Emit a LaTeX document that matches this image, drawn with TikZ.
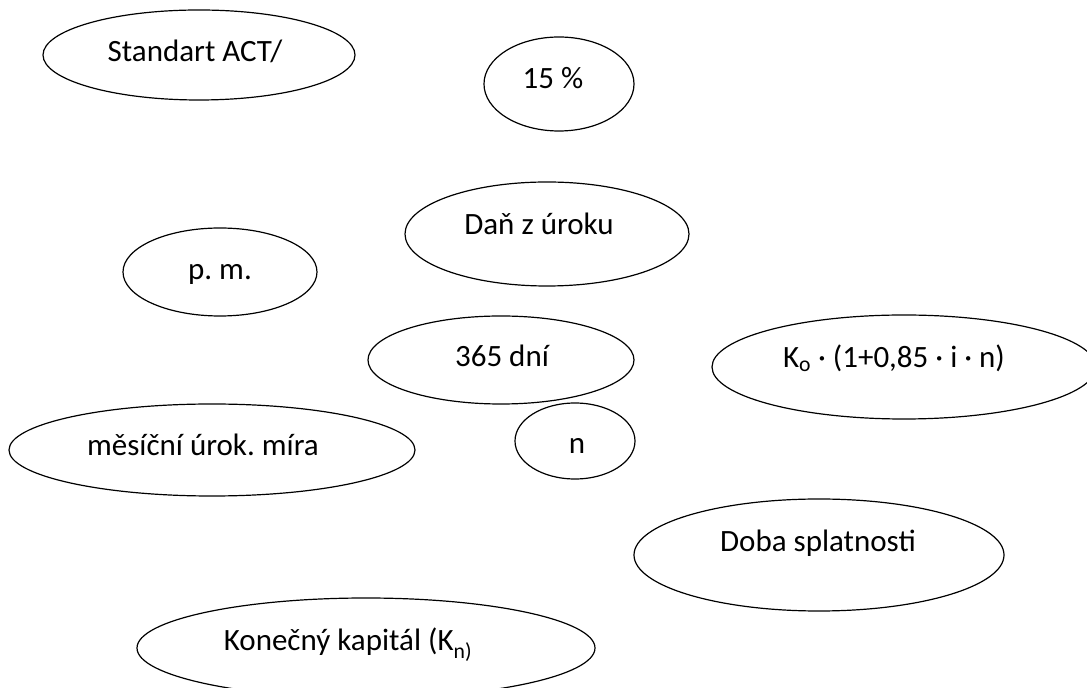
\documentclass[tikz,border=0pt]{standalone}
\usepackage{fontspec}
\setmainfont{Carlito}
\frenchspacing
\usetikzlibrary{shapes.geometric}
\tikzset{
  oval/.style={draw=black, line width=1.2pt, ellipse, inner sep=0pt, fill=none},
  lbl/.style={anchor=base, inner sep=0pt, font=\fontsize{31}{36}\selectfont}
}
\begin{document}
\begin{tikzpicture}[x=1pt,y=1pt]
\clip (0,0) rectangle (1087,688);
\fill[white] (0,0) rectangle (1087,688);
% ellipses
\node[oval, minimum width=312pt, minimum height=90pt]  (std)  at (199,633) {};
\node[oval, minimum width=150pt, minimum height=94pt]  (pct)  at (559,604) {};
\node[oval, minimum width=284pt, minimum height=104pt] (dan)  at (547,454) {};
\node[oval, minimum width=194pt, minimum height=88pt]  (pm)   at (220,416) {};
\node[oval, minimum width=266pt, minimum height=88pt]  (dni)  at (501,328) {};
\node[oval, minimum width=384pt, minimum height=104pt] (ko)   at (904,321) {};
\node[oval, minimum width=406pt, minimum height=92pt]  (mes)  at (212,238) {};
\node[oval, minimum width=120pt, minimum height=76pt]  (n)    at (575,247) {};
\node[oval, minimum width=370pt, minimum height=112pt] (doba) at (819,133) {};
\node[oval, minimum width=458pt, minimum height=100pt] (kon)  at (366,40) {};
% texts
\node[lbl] (tstd)  at (195,626) {Standart ACT/};
\node[lbl] (tpct)  at (553,599) {15 \%};
\node[lbl] (tdan)  at (539,453) {Daň z úroku};
\node[lbl] (tpm)   at (220,408) {p. m.};
\node[lbl] (tdni)  at (502,321) {365 dní};
\node[lbl] (tko)   at (894,320) {K\textsubscript{o} · (1+0,85 · i · n)};
\node[lbl] (tmes)  at (203,232) {měsíční úrok. míra};
\node[lbl] (tn)    at (577,234) {n};
\node[lbl] (tdoba) at (818,136) {Doba splatnosti};
\node[lbl] (tkon)  at (348,37)  {Konečný kapitál (K\textsubscript{n)}};
\end{tikzpicture}
\end{document}
